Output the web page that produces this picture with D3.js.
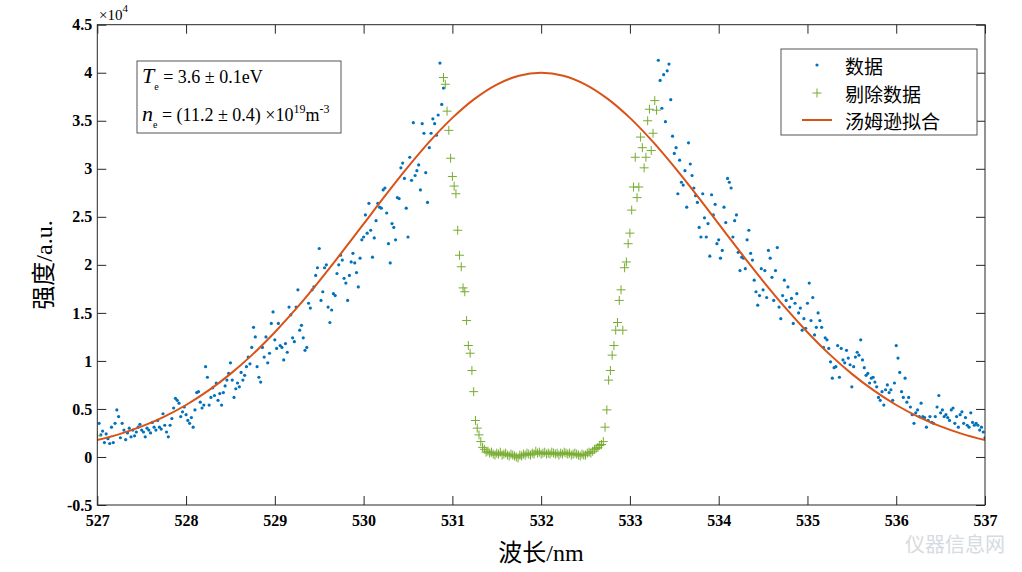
<!DOCTYPE html>
<html><head><meta charset="utf-8">
<script src="https://cdn.jsdelivr.net/npm/d3@7"></script>
<style>body{margin:0;background:#fff}svg{display:block}</style>
</head><body>
<svg id="c" width="1022" height="572"></svg>
<script>
// ---- data (intensity in units of 1e4 a.u., wavelength in nm) ----
const xTicks = [527,528,529,530,531,532,533,534,535,536,537];
const yTicks = [-0.5,0,0.5,1,1.5,2,2.5,3,3.5,4,4.5];
const wavelengthStep = 0.02;

// kept data, blue side (start 527.02)
const leftStart = 527.02;
const leftY = [
0.35,0.23,0.27,0.15,0.24,0.19,0.14,0.31,0.15,
0.35,0.49,0.42,0.20,0.35,0.28,0.18,0.25,0.30,0.21,
0.28,0.22,0.26,0.31,0.34,0.28,0.26,0.21,0.30,0.28,
0.25,0.36,0.31,0.28,0.38,0.31,0.29,0.45,0.33,0.26,
0.21,0.33,0.40,0.51,0.61,0.59,0.56,0.42,0.47,0.52,
0.44,0.38,0.35,0.41,0.31,0.49,0.67,0.68,0.57,0.51,
0.54,0.94,0.83,0.54,0.62,0.72,0.64,0.77,0.59,0.66,
0.54,0.67,0.74,0.80,0.87,0.98,0.80,0.62,0.71,0.77,
0.73,0.88,0.80,0.85,0.94,1.04,0.97,1.14,1.35,1.25,
0.94,0.83,0.78,1.14,1.04,1.25,0.98,1.08,1.39,1.51,
1.22,1.13,1.39,1.16,1.14,1.01,1.18,1.09,1.56,1.48,
1.24,1.20,1.56,1.74,1.32,1.37,1.24,1.11,1.14,1.60,
1.55,1.74,1.77,1.89,1.97,2.17,1.63,1.72,1.97,2.00,
1.56,1.40,1.53,1.70,1.68,1.91,2.00,2.10,2.05,1.86,
1.81,1.63,1.89,2.03,2.12,2.02,1.92,1.77,2.07,2.26,
2.29,2.52,2.33,2.64,2.36,2.08,2.28,2.46,2.64,2.60,
2.59,2.78,2.80,2.54,2.22,2.02,2.43,2.39,2.26,2.70,
2.69,3.01,3.06,2.90,2.59,2.29,3.12,2.88,3.48,2.93,
2.98,3.04,2.78,3.47,3.37,2.96,2.65,3.22,3.37,3.52,
3.47,3.35,3.56,4.10,3.67,3.84];

// kept data, right side (start 533.32)
const rightStart = 533.32;
const rightY = [
4.13,3.92,3.63,3.98,3.49,4.02,4.09,3.72,3.34,3.16,
3.22,2.74,3.09,2.86,2.83,2.98,2.60,3.27,3.05,2.93,
2.80,2.72,2.65,2.39,2.29,2.74,2.49,2.29,2.43,2.09,
2.73,2.52,2.63,2.22,2.26,2.07,2.15,2.60,2.44,2.90,
2.86,2.80,2.29,2.46,2.52,2.13,1.94,2.08,2.07,1.96,
2.26,2.36,2.12,2.05,1.84,1.72,1.58,1.68,1.96,1.74,
1.94,1.66,2.15,2.07,1.87,1.63,1.94,2.18,1.56,1.44,
1.68,1.84,1.63,1.77,1.56,1.65,1.39,1.60,1.70,1.50,
1.55,1.32,1.44,1.34,1.60,1.81,1.42,1.66,1.27,1.35,
1.50,1.42,1.35,1.14,1.24,1.22,1.13,0.99,0.82,0.93,
0.94,1.16,0.83,1.13,1.01,0.98,1.11,1.03,0.96,0.73,
0.94,1.04,1.09,1.06,1.22,1.01,0.93,0.85,0.87,0.77,
0.82,0.83,0.78,0.73,0.62,0.59,0.68,0.54,0.70,0.75,
0.67,0.70,0.59,0.77,1.16,1.03,0.88,0.68,0.62,0.82,
0.57,0.62,0.52,0.44,0.35,0.46,0.49,0.42,0.56,0.42,
0.41,0.31,0.38,0.42,0.36,0.35,0.42,0.52,0.64,0.46,
0.49,0.42,0.44,0.41,0.38,0.49,0.51,0.35,0.42,0.31,
0.44,0.47,0.35,0.41,0.33,0.31,0.46,0.36,0.33,0.35,
0.33,0.28,0.31,0.26,0.20];

// removed data (start 530.90) plus one removed point at the left edge
const removedStart = 530.90;
const removedY = [
3.95,3.88,3.60,3.40,3.11,2.92,2.82,2.74,2.36,2.10,
1.98,1.76,1.72,1.42,1.16,1.08,0.90,0.68,0.38,0.30,
0.23,0.16,0.10,0.08,0.05,0.06,0.04,0.05,0.03,0.02,
0.04,0.03,0.05,0.02,0.03,0.04,0.02,0.01,0.03,0.02,
0.01,0.00,-0.01,0.02,0.01,0.03,0.02,0.04,0.03,0.02,
0.04,0.03,0.06,0.04,0.05,0.03,0.04,0.05,0.03,0.04,
0.03,0.05,0.04,0.03,0.04,0.02,0.04,0.03,0.05,0.04,
0.03,0.04,0.02,0.03,0.04,0.03,0.02,0.01,0.03,0.02,
0.02,0.04,0.05,0.04,0.06,0.08,0.09,0.10,0.12,0.13,
0.16,0.31,0.49,0.80,0.90,1.06,1.16,1.32,1.40,1.63,
1.74,1.32,1.97,2.03,2.22,2.33,2.57,2.81,3.12,2.70,
2.81,3.33,3.22,3.01,3.12,3.50,3.62,3.19,3.37,3.71,
3.61];
const removedEdgeX = [527.00];
const removedEdgeY = [0.22];

// Thomson fit curve, sampled every 0.25 nm from 527
const fitStart = 527, fitStep = 0.25;
const fitY = [0.176,0.238,0.318,0.418,0.541,0.690,0.865,1.068,1.299,1.554,1.831,
2.124,2.426,2.728,3.019,3.290,3.530,3.728,3.877,3.969,4.000,3.969,3.877,3.728,
3.530,3.290,3.019,2.728,2.426,2.124,1.831,1.554,1.299,1.068,0.865,0.690,0.541,
0.418,0.318,0.238,0.176];

const legendLabels = ["数据","剔除数据","汤姆逊拟合"];
const colors = {data:"#0072BD", removed:"#77AC30", fit:"#D95319"};

// ---- build point lists ----
const keptPts = leftY.map((v,i)=>[leftStart+i*wavelengthStep, v])
  .concat(rightY.map((v,i)=>[rightStart+i*wavelengthStep, v]));
const removedPts = removedY.map((v,i)=>[removedStart+i*wavelengthStep, v])
  .concat(removedEdgeX.map((xv,i)=>[xv, removedEdgeY[i]]));
const fitPts = fitY.map((v,i)=>[fitStart+i*fitStep, v]);

// ---- layout ----
const svg = d3.select("#c");
const m = {l:97.3, r:985, t:24.7, b:505};
const x = d3.scaleLinear().domain([527,537]).range([m.l, m.r]);
const y = d3.scaleLinear().domain([-0.5,4.5]).range([m.b, m.t]);
const axisColor = "#262626";
const tickFont = "'Liberation Serif','Times New Roman',serif";

const clip = svg.append("defs").append("clipPath").attr("id","pc")
  .append("rect").attr("x",m.l).attr("y",m.t).attr("width",m.r-m.l).attr("height",m.b-m.t);

// data layers
const plot = svg.append("g").attr("clip-path","url(#pc)");
plot.append("g").selectAll("circle").data(keptPts).join("circle")
  .attr("cx",d=>x(d[0])).attr("cy",d=>y(d[1])).attr("r",1.6).attr("fill",colors.data);
plot.append("g").selectAll("path").data(removedPts).join("path")
  .attr("d",d=>`M${x(d[0])-4.5},${y(d[1])}h9M${x(d[0])},${y(d[1])-4.5}v9`)
  .attr("stroke",colors.removed).attr("stroke-width",1).attr("fill","none");
plot.append("path").datum(fitPts)
  .attr("d", d3.line().x(d=>x(d[0])).y(d=>y(d[1])).curve(d3.curveCatmullRom))
  .attr("fill","none").attr("stroke",colors.fit).attr("stroke-width",2);

// axes
function styleAxis(g){
  g.select(".domain").remove();
  g.selectAll(".tick line").attr("stroke",axisColor).attr("stroke-width",1);
  g.selectAll(".tick text").attr("fill","#000").attr("font-family",tickFont)
    .attr("font-weight","bold").attr("font-size",16);
}
const fmt = d=> d===0 ? "0" : String(d);
svg.append("g").attr("transform",`translate(0,${m.b})`)
  .call(d3.axisBottom(x).tickValues(xTicks).tickFormat(fmt).tickSizeInner(-9).tickSizeOuter(0).tickPadding(10))
  .call(styleAxis);
svg.append("g").attr("transform",`translate(${m.l},0)`)
  .call(d3.axisLeft(y).tickValues(yTicks).tickFormat(fmt).tickSizeInner(-9).tickSizeOuter(0).tickPadding(5))
  .call(styleAxis);
svg.append("g").attr("transform",`translate(0,${m.t})`)
  .call(d3.axisTop(x).tickValues(xTicks).tickFormat("").tickSizeInner(-9).tickSizeOuter(0))
  .call(styleAxis);
svg.append("g").attr("transform",`translate(${m.r},0)`)
  .call(d3.axisRight(y).tickValues(yTicks).tickFormat("").tickSizeInner(-9).tickSizeOuter(0))
  .call(styleAxis);
svg.append("rect").attr("x",m.l).attr("y",m.t).attr("width",m.r-m.l).attr("height",m.b-m.t)
  .attr("fill","none").attr("stroke",axisColor).attr("stroke-width",1);

// exponent
const ex = svg.append("text").attr("x",99).attr("y",20).attr("font-family",tickFont)
  .attr("font-size",15).attr("fill","#000");
ex.append("tspan").text("×10");
ex.append("tspan").attr("font-size",11).attr("dy",-8).text("4");

// axis titles
const labFont = "'Liberation Serif','Times New Roman','Noto Sans CJK SC',serif";
svg.append("text").attr("x",541).attr("y",561).attr("text-anchor","middle")
  .attr("font-family",labFont).attr("font-size",24).attr("fill","#000").text("波长/nm");
svg.append("text").attr("transform","translate(52,265) rotate(-90)").attr("text-anchor","middle")
  .attr("font-family",labFont).attr("font-size",24).attr("fill","#000").text("强度/a.u.");

// annotation box
svg.append("rect").attr("x",137).attr("y",61).attr("width",204).attr("height",72)
  .attr("fill","#fff").attr("stroke","#555").attr("stroke-width",1);
const t1 = svg.append("text").attr("x",142).attr("y",83).attr("font-family",tickFont).attr("font-size",18).attr("fill","#000");
t1.append("tspan").attr("font-style","italic").attr("font-size",22).text("T");
t1.append("tspan").attr("font-size",10).attr("dy",7).text("e");
t1.append("tspan").attr("dy",-7).text(" = 3.6 ± 0.1eV");
const t2 = svg.append("text").attr("x",142).attr("y",121).attr("font-family",tickFont).attr("font-size",18).attr("fill","#000");
t2.append("tspan").attr("font-style","italic").attr("font-size",22).text("n");
t2.append("tspan").attr("font-size",10).attr("dy",7).text("e");
t2.append("tspan").attr("dy",-7).text(" = (11.2 ± 0.4) ×10");
t2.append("tspan").attr("font-size",12).attr("dy",-8).text("19");
t2.append("tspan").attr("dy",8).text("m");
t2.append("tspan").attr("font-size",12).attr("dy",-8).text("-3");

// legend
svg.append("rect").attr("x",781).attr("y",49).attr("width",196).attr("height",86)
  .attr("fill","#fff").attr("stroke","#555").attr("stroke-width",1);
const ly = [65,93,120];
svg.append("circle").attr("cx",817).attr("cy",ly[0]).attr("r",1.6).attr("fill",colors.data);
svg.append("path").attr("d",`M812.5,${ly[1]}h9M817,${ly[1]-4.5}v9`).attr("stroke",colors.removed).attr("stroke-width",1);
svg.append("line").attr("x1",802).attr("x2",832).attr("y1",ly[2]).attr("y2",ly[2]).attr("stroke",colors.fit).attr("stroke-width",2);
legendLabels.forEach((s,i)=>{
  svg.append("text").attr("x",845).attr("y",ly[i]).attr("dominant-baseline","central")
    .attr("font-family","'Noto Sans CJK SC',sans-serif").attr("font-size",19).attr("fill","#000").text(s);
});

// watermark
svg.append("text").attr("x",905).attr("y",552).attr("font-family","'Noto Sans CJK SC',sans-serif")
  .attr("font-size",20).attr("fill","#d6dbe0").text("仪器信息网");
</script>
</body></html>
